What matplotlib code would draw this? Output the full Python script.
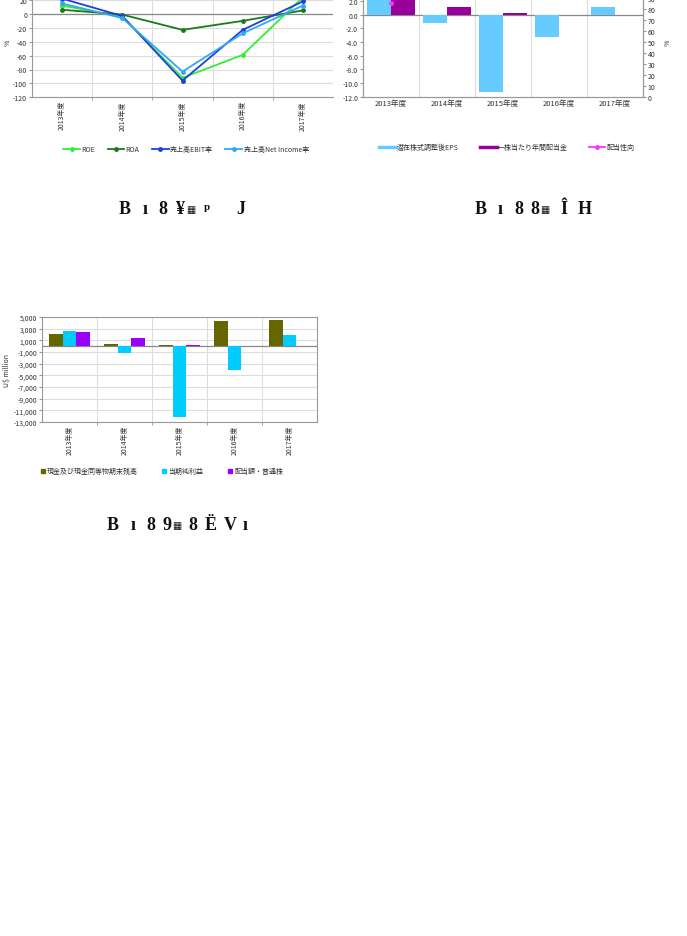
import numpy as np
import matplotlib
matplotlib.use("Agg")
import matplotlib.pyplot as plt
from matplotlib.lines import Line2D
from matplotlib.ticker import FuncFormatter

plt.rcParams['font.family'] = ['Noto Sans CJK JP', 'DejaVu Sans']
plt.rcParams['axes.unicode_minus'] = False

W, H = 687, 937

years = ["2013年度", "2014年度", "2015年度", "2016年度", "2017年度"]

# chart 1: profitability ratios (%)
roe = [12, -4, -92, -59, 24]
roa = [6, -1, -23, -10, 5]
ebit_margin = [22, -3, -96, -23, 18]
net_margin = [15, -6, -83, -28, 12]

# chart 2: per-share data
eps = [3.0, -1.2, -11.3, -3.2, 1.2]
dps = [2.1, 1.2, 0.2, 0.0, 0.0]
payout = [86, np.nan, np.nan, np.nan, np.nan]

# chart 3: U$ million
cash = [2050, 350, 150, 4250, 4550]
net_income = [2600, -1200, -12200, -4150, 1850]
dividends = [2400, 1350, 200, 0, 0]

# garbled captions under each chart
cap1 = [(125, "B"), (145, "ı"), (163, "8"), (181, "¥"), (191, "▦"), (207, "ᵖ"), (241, "J")]
cap2 = [(481, "B"), (500, "ı"), (519, "8"), (535, "8"), (545, "▦"), (564, "Î"), (585, "H")]
cap3 = [(113, "B"), (133, "ı"), (151, "8"), (167, "9"), (177, "▦"), (193, "8"), (211, "Ë"), (230, "V"), (245, "ı")]

GRID = "#dddddd"
SPINE = "#999999"
TXT = "#333333"


def rect(l, t, r, b):
    return [l / W, 1 - b / H, (r - l) / W, (b - t) / H]


def style(ax, hgrid=True):
    for s in ax.spines.values():
        s.set_color(SPINE)
        s.set_linewidth(0.8)
    ax.set_xlim(-0.5, 4.5)
    ax.set_xticks(np.arange(5))
    ax.set_xticks(np.arange(0.5, 4.5, 1), minor=True)
    ax.tick_params(axis="x", which="major", length=0, labelsize=5, colors=TXT, pad=2)
    ax.tick_params(axis="x", which="minor", length=2, color=SPINE)
    ax.tick_params(axis="y", length=2, labelsize=5, colors=TXT, pad=1.5, color=SPINE)
    ax.grid(True, which="minor", axis="x", color=GRID, lw=0.8)
    if hgrid:
        ax.grid(True, which="major", axis="y", color=GRID, lw=0.8)
    ax.axhline(0, color="#888888", lw=0.9, zorder=1.5)
    ax.set_axisbelow(True)


fig = plt.figure(figsize=(W / 100, H / 100), dpi=100)
x = np.arange(len(years))

# ---- chart 1 (top of plot runs past the page edge, as in the source)
ax1 = fig.add_axes(rect(32, -12.9, 333, 98.3))
style(ax1)
ax1.set_ylim(-120, 40)
ax1.set_yticks(np.arange(-120, 21, 20))
ax1.set_xticklabels(years, rotation=90)
ax1.spines["top"].set_visible(False)
ax1.spines["right"].set_visible(False)
series1 = [(roe, "#33ee33", "ROE"), (roa, "#1a7a1a", "ROA"),
           (ebit_margin, "#1f3fdd", "売上高EBIT率"), (net_margin, "#33a8f0", "売上高Net Income率")]
h1 = []
for vals, col, lab in series1:
    ax1.plot(x, vals, color=col, lw=1.3, marker="o", ms=2.5, zorder=3)
    h1.append(Line2D([], [], color=col, lw=1.3, marker="o", ms=2.5, label=lab))
ax1.set_ylabel("%", fontsize=5, color=TXT, labelpad=1)
fig.legend(handles=h1, loc="center", bbox_to_anchor=(186 / W, 1 - 150 / H), ncol=4,
           frameon=False, fontsize=5, handlelength=2.4, columnspacing=1.8, handletextpad=0.2,
           labelcolor=TXT)

# ---- chart 2
ax2 = fig.add_axes(rect(363, -11.6, 643, 97.7))
style(ax2, hgrid=False)
ax2.set_ylim(-12, 4)
ax2.set_yticks(np.arange(-12, 2.1, 2))
ax2.yaxis.set_major_formatter(FuncFormatter(lambda v, p: f"{v:.1f}"))
ax2.set_xticklabels(years, fontsize=5.5)
ax2.tick_params(axis="x", which="minor", length=0)
bw = 0.42
ax2.bar(x - bw / 2, eps, bw, color="#66ccff", zorder=2)
ax2.bar(x + bw / 2, dps, bw, color="#990099", zorder=2)
ax2r = ax2.twinx()
ax2r.set_ylim(0, 100)
ax2r.set_yticks(np.arange(0, 91, 10))
ax2r.tick_params(axis="y", length=2, labelsize=5, colors=TXT, pad=1.5, color=SPINE)
for s in ax2r.spines.values():
    s.set_color(SPINE)
    s.set_linewidth(0.8)
ax2r.plot(x, payout, color="#ff33ff", lw=1.3, marker="o", ms=2.5, zorder=4)
ax2r.set_ylabel("%", fontsize=5, color=TXT, labelpad=6)
h2 = [Line2D([], [], color="#66ccff", lw=2.5, label="潜在株式調整後EPS"),
      Line2D([], [], color="#990099", lw=2.5, label="一株当たり年間配当金"),
      Line2D([], [], color="#ff33ff", lw=1.3, marker="o", ms=2.5, label="配当性向")]
fig.legend(handles=h2, loc="center", bbox_to_anchor=(507 / W, 1 - 148 / H), ncol=3,
           frameon=False, fontsize=5, handlelength=2.4, columnspacing=3.0, handletextpad=0.2,
           labelcolor=TXT)

# ---- chart 3
ax3 = fig.add_axes(rect(42, 318, 317, 423))
style(ax3)
ax3.set_ylim(-13000, 5000)
ax3.set_yticks(np.arange(-13000, 5001, 2000))
ax3.yaxis.set_major_formatter(FuncFormatter(lambda v, p: f"{int(v):,}"))
ax3.set_xticklabels(years, rotation=90)
bw3 = 0.25
ax3.bar(x - bw3, cash, bw3, color="#666600", zorder=2)
ax3.bar(x, net_income, bw3, color="#00ccff", zorder=2)
ax3.bar(x + bw3, dividends, bw3, color="#9900ff", zorder=2)
ax3.set_ylabel("U$ million", fontsize=5, color=TXT, labelpad=2)
h3 = [Line2D([], [], color=c, marker="s", ms=3, ls="none", label=l)
      for c, l in [("#666600", "現金及び現金同等物期末残高"), ("#00ccff", "当期純利益"),
                   ("#9900ff", "配当額・普通株")]]
fig.legend(handles=h3, loc="center", bbox_to_anchor=(162 / W, 1 - 472 / H), ncol=3,
           frameon=False, fontsize=5, handlelength=0.6, columnspacing=3.5, handletextpad=0.3,
           labelcolor=TXT)

# ---- captions
for cap, yy in [(cap1, 210), (cap2, 210), (cap3, 526)]:
    for xx, t in cap:
        fs = 7 if t == "▦" else 13
        fig.text(xx / W, 1 - yy / H, t, ha="center", va="center", fontsize=fs,
                 fontweight="bold", family=["Liberation Serif", "DejaVu Sans"],
                 color="#111111")

fig.savefig("out.png", dpi=100)
